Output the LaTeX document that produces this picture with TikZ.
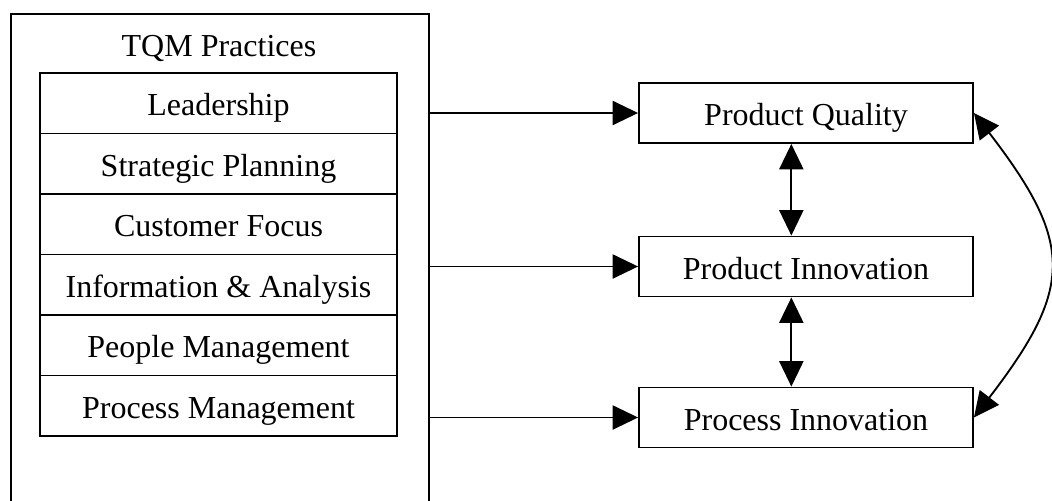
\documentclass[tikz,border=0pt]{standalone}
\usepackage{fontspec}
\setmainfont{Liberation Serif}
\usetikzlibrary{positioning,arrows.meta}
\newdimen\pxunit
\setlength{\pxunit}{0.75pt}
\tikzstyle{labelstyle}=[text height=19pt,text depth=0pt]
\tikzstyle{outerstyle}=[shape=rectangle,draw,line width=1.4pt,minimum width=418*\pxunit,minimum height=520*\pxunit,inner sep=0pt]
\tikzstyle{pracstyle}=[shape=rectangle,draw,line width=1.4pt,minimum width=357*\pxunit,minimum height=60.5*\pxunit,inner sep=0pt,labelstyle]
\tikzstyle{outcomestyle}=[shape=rectangle,draw,line width=1.4pt,minimum width=334*\pxunit,minimum height=60*\pxunit,inner sep=0pt,labelstyle]
\tikzstyle{linkstyle}=[line width=1.4pt,>={Triangle[length=19pt,width=18pt]}]
\newcommand{\pracrow}[3]{ \node [style=pracstyle] (#1) at (218.5,#2) {#3}; }
\newcommand{\outcome}[3]{ \node [style=outcomestyle] (#1) at (806,#2) {#3}; }
\newcommand{\feedline}[2]{ \draw [style=linkstyle,->] (#1.east |- #2.west) -- (#2.west); }

\begin{document}
\begin{tikzpicture}[x=\pxunit,y=-\pxunit,font=\fontsize{24}{28}\selectfont]
\useasboundingbox (0,0) rectangle (1052,500);
\clip (0,0) rectangle (1052,500);

\node [style=outerstyle,anchor=north west] (tqm) at (10,13) {}; %
\node [style=labelstyle,inner sep=0pt] (tqmtitle) at (219,44) {TQM Practices}; %
\pracrow{lead}{103.25}{Leadership} %
\pracrow{strat}{163.75}{Strategic Planning} %
\pracrow{cust}{224.25}{Customer Focus} %
\pracrow{info}{284.75}{Information \& Analysis} %
\pracrow{people}{345.25}{People Management} %
\pracrow{procmgmt}{405.75}{Process Management} %

\outcome{prodqual}{113}{Product Quality} %
\outcome{prodinno}{266.5}{Product Innovation} %
\outcome{procinno}{417.5}{Process Innovation} %

\feedline{tqm}{prodqual} %
\feedline{tqm}{prodinno} %
\feedline{tqm}{procinno} %
\draw [style=linkstyle,<->] ([xshift=-11pt]prodqual.south) -- ([xshift=-11pt]prodinno.north); %
\draw [style=linkstyle,<->] ([xshift=-11pt]prodinno.south) -- ([xshift=-11pt]procinno.north); %
\draw [style=linkstyle,<->] (prodqual.east) .. controls +(100,130) and +(100,-130) .. (procinno.east); %
\end{tikzpicture}
\end{document}
